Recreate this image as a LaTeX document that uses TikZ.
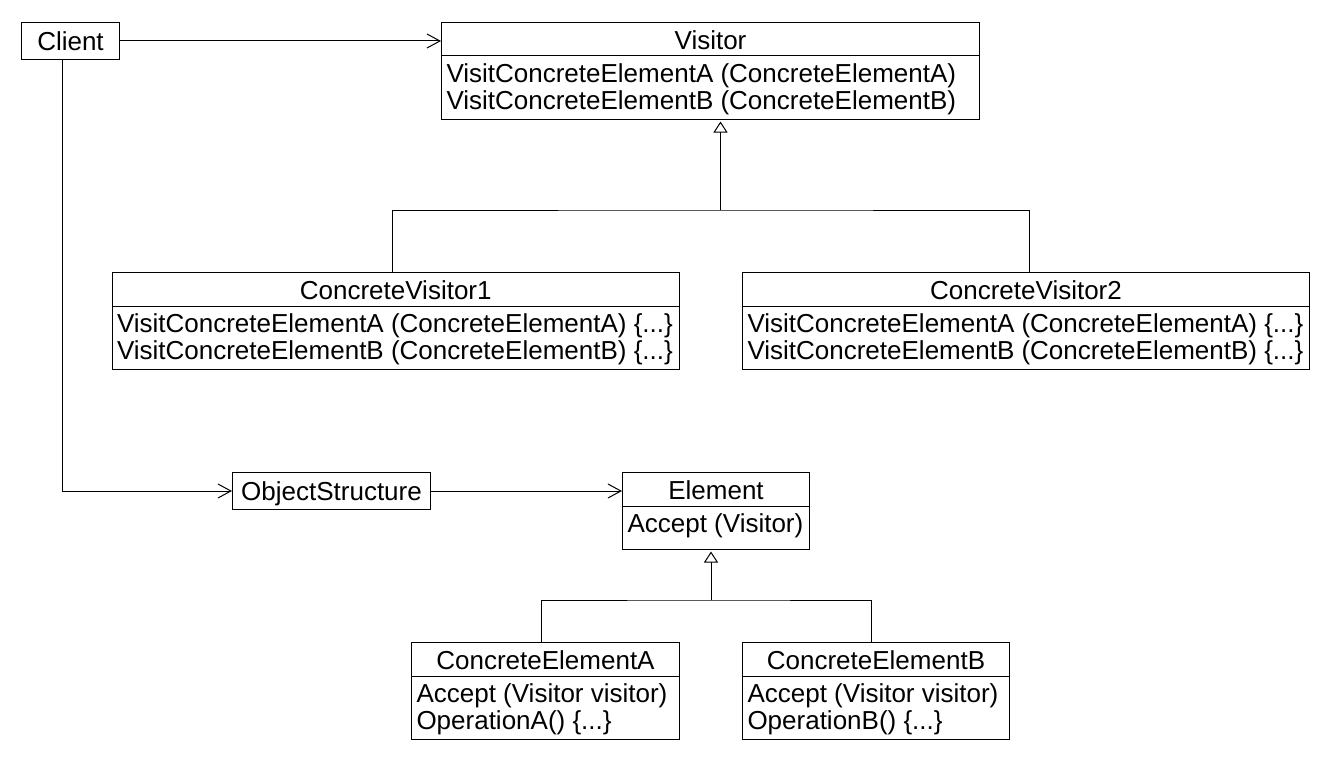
\documentclass[tikz,border=0pt]{standalone}
\usepackage{fontspec}
\setmainfont{Liberation Sans}
\usetikzlibrary{arrows.meta}
\begin{document}
\begin{tikzpicture}[x=1pt,y=-1pt,line width=1pt,
  every node/.style={font=\fontsize{26}{27}\selectfont},
  box/.style={draw, line width=1pt, inner sep=0pt, anchor=north west},
  plainbox/.style={box, text height=19pt, text depth=0pt},
  ttl/.style={inner sep=0pt, anchor=base},
  txt/.style={inner sep=0pt, anchor=base west},
  assoc/.style={draw, -{Straight Barb[length=13pt,width=14pt,line width=1pt]}},
  gen/.style={draw, -{Triangle[open,length=11pt,width=14pt,line width=1pt]}, shorten >=1.5pt}]
\useasboundingbox (0,0) rectangle (1330,760);

% --- class boxes ---
\node[plainbox, minimum width=98, minimum height=37] (client) at (21,22) {Client};

\node[box, minimum width=538, minimum height=97] (visitor) at (441,22) {};
\draw ([yshift=-34]visitor.north west) -- ([yshift=-34]visitor.north east);
\node[ttl] (visitorT) at ([yshift=-27]visitor.north) {Visitor};
\node[txt] (visitorA) at ([xshift=5,yshift=-60]visitor.north west) {VisitConcreteElementA (ConcreteElementA)};
\node[txt] (visitorB) at ([xshift=5,yshift=-87]visitor.north west) {VisitConcreteElementB (ConcreteElementB)};

\node[box, minimum width=567.5, minimum height=97] (cv1) at (111.5,272) {};
\draw ([yshift=-34]cv1.north west) -- ([yshift=-34]cv1.north east);
\node[ttl] (cv1T) at ([yshift=-27]cv1.north) {ConcreteVisitor1};
\node[txt] (cv1A) at ([xshift=5,yshift=-60]cv1.north west) {VisitConcreteElementA (ConcreteElementA) \{...\}};
\node[txt] (cv1B) at ([xshift=5,yshift=-87]cv1.north west) {VisitConcreteElementB (ConcreteElementB) \{...\}};

\node[box, minimum width=567, minimum height=97] (cv2) at (742,272) {};
\draw ([yshift=-34]cv2.north west) -- ([yshift=-34]cv2.north east);
\node[ttl] (cv2T) at ([yshift=-27]cv2.north) {ConcreteVisitor2};
\node[txt] (cv2A) at ([xshift=5,yshift=-60]cv2.north west) {VisitConcreteElementA (ConcreteElementA) \{...\}};
\node[txt] (cv2B) at ([xshift=5,yshift=-87]cv2.north west) {VisitConcreteElementB (ConcreteElementB) \{...\}};

\node[plainbox, minimum width=198, minimum height=37] (objs) at (232,472) {ObjectStructure};

\node[box, minimum width=187, minimum height=77] (element) at (622,472) {};
\draw ([yshift=-34]element.north west) -- ([yshift=-34]element.north east);
\node[ttl] (elementT) at ([yshift=-27]element.north) {Element};
\node[txt] (elementA) at ([xshift=5,yshift=-60]element.north west) {Accept (Visitor)};

\node[box, minimum width=268, minimum height=97] (cea) at (411,642) {};
\draw ([yshift=-34]cea.north west) -- ([yshift=-34]cea.north east);
\node[ttl] (ceaT) at ([yshift=-27]cea.north) {ConcreteElementA};
\node[txt] (ceaA) at ([xshift=5,yshift=-60]cea.north west) {Accept (Visitor visitor)};
\node[txt] (ceaB) at ([xshift=5,yshift=-87]cea.north west) {OperationA() \{...\}};

\node[box, minimum width=267, minimum height=97] (ceb) at (742,642) {};
\draw ([yshift=-34]ceb.north west) -- ([yshift=-34]ceb.north east);
\node[ttl] (cebT) at ([yshift=-27]ceb.north) {ConcreteElementB};
\node[txt] (cebA) at ([xshift=5,yshift=-60]ceb.north west) {Accept (Visitor visitor)};
\node[txt] (cebB) at ([xshift=5,yshift=-87]ceb.north west) {OperationB() \{...\}};

% --- associations ---
\draw[assoc] (client.east) -- (client.east -| visitor.west);
\draw[assoc] ([xshift=-8.5]client.south) |- (objs.west);
\draw[assoc] (objs.east) -- (objs.east -| element.west);

% --- generalisation trees ---
\coordinate (vjoin) at (720.5,210);
\draw[gen] (vjoin) -- (vjoin |- visitor.south);
\draw ([xshift=-3.5]cv1.north) |- (vjoin) -| ([xshift=3.5]cv2.north);

\coordinate (ejoin) at (711,600);
\draw[gen] (ejoin) -- (ejoin |- element.south);
\draw ([xshift=-4]cea.north) |- (ejoin) -| ([xshift=-4.5]ceb.north);
\end{tikzpicture}
\end{document}
